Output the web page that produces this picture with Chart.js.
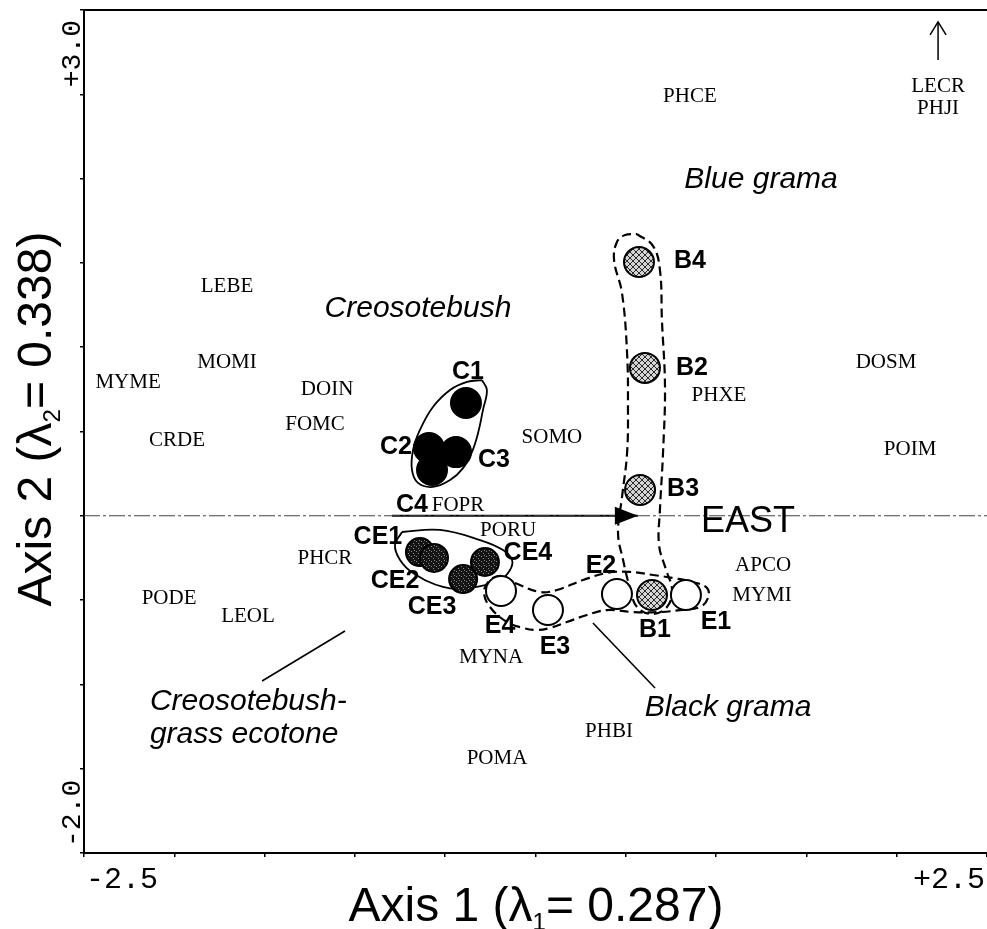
<!DOCTYPE html>
<html>
<head>
<meta charset="utf-8">
<script src="https://cdn.jsdelivr.net/npm/chart.js@4.4.0/dist/chart.umd.min.js"></script>
<style>
  html, body { margin: 0; padding: 0; background: #fff; }
  canvas { display: block; }
</style>
</head>
<body>
<canvas id="chart" width="987" height="929"></canvas>
<script>
// axis ranges and the tick labels shown at the ends
const xRange = [-2.5, 2.5];
const yRange = [-2.0, 3.0];
const xTickValues = [-2.5, 2.5];
const xTickLabels = ['-2.5', '+2.5'];
const yTickValues = [-2.0, 3.0];
const yTickLabels = ['-2.0', '+3.0'];

// site scores (axis 1, axis 2)
const creosoteSites = ['C1', 'C2', 'C3', 'C4'];
const creosoteX = [-0.385, -0.590, -0.440, -0.573];
const creosoteY = [0.669, 0.402, 0.378, 0.272];

const ecotoneSites = ['CE1', 'CE2', 'CE3', 'CE4'];
const ecotoneX = [-0.640, -0.562, -0.401, -0.280];
const ecotoneY = [-0.215, -0.250, -0.375, -0.274];

const blackSites = ['E1', 'E2', 'E3', 'E4'];
const blackX = [0.833, 0.451, 0.069, -0.191];
const blackY = [-0.470, -0.464, -0.559, -0.446];

const blueSites = ['B1', 'B2', 'B3', 'B4'];
const blueX = [0.645, 0.606, 0.579, 0.573];
const blueY = [-0.470, 0.877, 0.153, 1.505];

// species scores
const speciesNames = ['LEBE', 'MOMI', 'MYME', 'DOIN', 'FOMC', 'CRDE', 'SOMO', 'FOPR', 'PORU', 'PHCR',
  'PODE', 'LEOL', 'MYNA', 'PHBI', 'POMA', 'APCO', 'MYMI', 'PHXE', 'DOSM', 'POIM', 'PHCE', 'LECR', 'PHJI'];
const speciesX = [-1.708, -1.708, -2.256, -1.154, -1.221, -1.985, 0.091, -0.429, -0.152, -1.166,
  -2.029, -1.592, -0.246, 0.407, -0.213, 1.260, 1.254, 1.016, 1.941, 2.074, 0.855, 2.229, 2.229];
const speciesY = [1.363, 0.912, 0.788, 0.752, 0.539, 0.444, 0.467, 0.064, -0.090, -0.256,
  -0.493, -0.600, -0.843, -1.282, -1.442, -0.292, -0.470, 0.716, 0.912, 0.396, 2.490, 2.549, 2.413];

// environmental vector
const envName = 'EAST';
const envX = [-0.795, 0.567];
const envY = [0, 0];
const envLabelX = 1.177;
const envLabelY = -0.037;

// group envelopes (outline vertices, closed)
const creosoteHullX = [-0.296, -0.269, -0.291, -0.318, -0.352, -0.401, -0.473, -0.568, -0.651, -0.684, -0.678, -0.640, -0.568, -0.473, -0.379, -0.296];
const creosoteHullY = [0.805, 0.746, 0.627, 0.491, 0.378, 0.283, 0.212, 0.171, 0.195, 0.272, 0.390, 0.509, 0.645, 0.746, 0.794, 0.805];

const ecotoneHullX = [-0.739, -0.529, -0.307, -0.180, -0.130, -0.141, -0.197, -0.363, -0.512, -0.678, -0.750, -0.778, -0.739];
const ecotoneHullY = [-0.096, -0.084, -0.144, -0.203, -0.262, -0.321, -0.381, -0.428, -0.422, -0.339, -0.262, -0.173, -0.096];

const blueHullX = [0.562, 0.651, 0.689, 0.700, 0.717, 0.706, 0.689, 0.684, 0.723, 0.756, 0.728, 0.645, 0.562, 0.523, 0.485, 0.457, 0.479, 0.507, 0.512, 0.507, 0.479, 0.435, 0.451, 0.496, 0.562];
const blueHullY = [1.671, 1.600, 1.458, 1.161, 0.764, 0.372, 0.034, -0.173, -0.321, -0.440, -0.541, -0.582, -0.541, -0.428, -0.262, -0.102, 0.111, 0.372, 0.645, 0.966, 1.321, 1.517, 1.624, 1.665, 1.671];

const blackHullX = [-0.114, 0.025, 0.119, 0.263, 0.396, 0.523, 0.651, 0.761, 0.872, 0.950, 0.955, 0.911, 0.800, 0.689, 0.540, 0.396, 0.285, 0.174, 0.080, 0.008, -0.069, -0.158, -0.252, -0.285, -0.252, -0.185, -0.114];
const blackHullY = [-0.399, -0.452, -0.440, -0.381, -0.339, -0.333, -0.351, -0.369, -0.393, -0.428, -0.488, -0.541, -0.559, -0.571, -0.571, -0.559, -0.588, -0.630, -0.665, -0.677, -0.665, -0.630, -0.541, -0.452, -0.381, -0.357, -0.399];

// group names and their anchors
const groupNames = ['Creosotebush', 'Blue grama', 'Black grama', 'Creosotebush-', 'grass ecotone'];
const groupX = [-0.651, 1.249, 1.066, -2.135, -2.135];
const groupY = [1.227, 1.992, -1.140, -1.104, -1.300];
const groupAlign = ['center', 'center', 'center', 'left', 'left'];

// leader lines from group names
const ecotoneLeaderX = [-1.514, -1.055];
const ecotoneLeaderY = [-0.980, -0.683];
const blackLeaderX = [0.318, 0.662];
const blackLeaderY = [-0.636, -1.021];

// off-chart marker for LECR / PHJI
const offChartX = [2.229, 2.229];
const offChartY = [2.703, 2.929];

// label offsets in pixels from each site point
const creosoteLabelOffset = [[2, -31], [-33, -1], [38, 8], [-20, 35]];
const ecotoneLabelOffset = [[-42, -15], [-39, 23], [-31, 28], [43, -9]];
const blackLabelOffset = [[30, 27], [-16, -28], [7, 37], [-1, 35]];
const blueLabelOffset = [[3, 35], [47, 0], [43, -1], [51, -1]];

const pts = (xs, ys) => xs.map((v, i) => ({ x: v, y: ys[i] }));

const canvas = document.getElementById('chart');
const ctx0 = canvas.getContext('2d');

function makePattern(size, bg, fg, cells) {
  const c = document.createElement('canvas');
  c.width = size; c.height = size;
  const g = c.getContext('2d');
  g.fillStyle = bg;
  g.fillRect(0, 0, size, size);
  g.fillStyle = fg;
  cells.forEach(([a, b]) => g.fillRect(a, b, 1, 1));
  return ctx0.createPattern(c, 'repeat');
}

// light cross-hatch for blue grama, dark speckle for the ecotone
const blueFill = makePattern(6, '#d4d4d4', '#2a2a2a',
  [[0, 0], [1, 1], [2, 2], [3, 3], [4, 4], [5, 5], [5, 0], [4, 1], [3, 2], [2, 3], [1, 4], [0, 5]]);
const ecoFill = makePattern(5, '#141414', '#8a8a8a', [[1, 1], [3, 3], [4, 0]]);

function drawRich(ctx, parts, cx, cy, rot) {
  ctx.save();
  ctx.translate(cx, cy);
  ctx.rotate(rot);
  ctx.textAlign = 'left';
  ctx.textBaseline = 'alphabetic';
  let total = 0;
  parts.forEach(p => { ctx.font = p.font; total += ctx.measureText(p.text).width; });
  let pos = -total / 2;
  parts.forEach(p => {
    ctx.font = p.font;
    ctx.fillText(p.text, pos, p.dy || 0);
    pos += ctx.measureText(p.text).width;
  });
  ctx.restore();
}

const annotate = {
  id: 'annotate',
  afterDatasetsDraw(chart) {
    const { ctx, chartArea: a } = chart;
    const x = chart.scales.x;
    const y = chart.scales.y;
    ctx.save();
    ctx.fillStyle = '#000';
    ctx.strokeStyle = '#000';

    // top frame line
    ctx.lineWidth = 2;
    ctx.beginPath();
    ctx.moveTo(a.left, a.top);
    ctx.lineTo(a.right, a.top);
    ctx.stroke();

    // EAST arrowhead
    const tx = x.getPixelForValue(envX[1]);
    const ty = y.getPixelForValue(envY[1]);
    ctx.beginPath();
    ctx.moveTo(tx, ty);
    ctx.lineTo(tx - 23, ty - 9);
    ctx.lineTo(tx - 23, ty + 9);
    ctx.closePath();
    ctx.fill();

    // off-chart arrow (LECR, PHJI)
    const ax = x.getPixelForValue(offChartX[1]);
    const ay = y.getPixelForValue(offChartY[1]);
    ctx.lineWidth = 1.5;
    ctx.beginPath();
    ctx.moveTo(ax - 8, ay + 13);
    ctx.lineTo(ax, ay);
    ctx.lineTo(ax + 8, ay + 13);
    ctx.stroke();

    // species codes
    ctx.font = '21px "Liberation Serif"';
    ctx.textAlign = 'center';
    ctx.textBaseline = 'middle';
    speciesNames.forEach((n, i) => {
      ctx.fillText(n, x.getPixelForValue(speciesX[i]), y.getPixelForValue(speciesY[i]));
    });

    // site labels
    ctx.font = 'bold 25px "Liberation Sans"';
    const siteSets = [
      [creosoteSites, creosoteX, creosoteY, creosoteLabelOffset],
      [ecotoneSites, ecotoneX, ecotoneY, ecotoneLabelOffset],
      [blackSites, blackX, blackY, blackLabelOffset],
      [blueSites, blueX, blueY, blueLabelOffset]
    ];
    siteSets.forEach(([names, xs, ys, off]) => {
      names.forEach((n, i) => {
        ctx.fillText(n, x.getPixelForValue(xs[i]) + off[i][0], y.getPixelForValue(ys[i]) + off[i][1]);
      });
    });

    // group names
    ctx.font = 'italic 30px "Liberation Sans"';
    groupNames.forEach((n, i) => {
      ctx.textAlign = groupAlign[i];
      ctx.fillText(n, x.getPixelForValue(groupX[i]), y.getPixelForValue(groupY[i]));
    });

    // environmental variable name
    ctx.textAlign = 'center';
    ctx.font = '36px "Liberation Sans"';
    ctx.fillText(envName, x.getPixelForValue(envLabelX), y.getPixelForValue(envLabelY));

    // end tick labels
    ctx.textBaseline = 'alphabetic';
    ctx.font = '30px "Liberation Mono"';
    ctx.textAlign = 'left';
    ctx.fillText(xTickLabels[0], x.getPixelForValue(xTickValues[0]) + 2, 888);
    ctx.textAlign = 'right';
    ctx.fillText(xTickLabels[1], x.getPixelForValue(xTickValues[1]) - 2, 888);

    ctx.font = '28px "Liberation Mono"';
    [0, 1].forEach(i => {
      ctx.save();
      const py = y.getPixelForValue(yTickValues[i]) + (i === 0 ? -6 : 10);
      ctx.translate(80, py);
      ctx.rotate(-Math.PI / 2);
      ctx.textAlign = i === 0 ? 'left' : 'right';
      ctx.fillText(yTickLabels[i], 0, 0);
      ctx.restore();
    });

    // axis titles
    drawRich(ctx, [
      { text: 'Axis 1 (\u03bb', font: '48px "Liberation Sans"' },
      { text: '1', font: '24px "Liberation Sans"', dy: 9 },
      { text: '= 0.287)', font: '48px "Liberation Sans"' }
    ], 536, 921, 0);
    drawRich(ctx, [
      { text: 'Axis 2 (\u03bb', font: '48px "Liberation Sans"' },
      { text: '2', font: '24px "Liberation Sans"', dy: 9 },
      { text: '= 0.338)', font: '48px "Liberation Sans"' }
    ], 51, 419, -Math.PI / 2);

    ctx.restore();
  }
};

const siteStyle = (fill, radius) => ({
  pointRadius: radius,
  pointHoverRadius: radius,
  pointBackgroundColor: fill,
  pointBorderColor: '#000',
  pointBorderWidth: 2,
  showLine: false,
  order: 0
});

const outline = (xs, ys, dashed) => ({
  data: pts(xs, ys),
  showLine: true,
  borderColor: '#000',
  borderWidth: dashed ? 2.2 : 1.8,
  borderDash: dashed ? [9, 5] : [],
  tension: 0.4,
  pointRadius: 0,
  fill: false,
  order: 1
});

const segment = (xs, ys, width, dash, color) => ({
  data: pts(xs, ys),
  showLine: true,
  borderColor: color || '#000',
  borderWidth: width,
  borderDash: dash || [],
  pointRadius: 0,
  fill: false,
  order: 2
});

new Chart(canvas, {
  type: 'scatter',
  data: {
    datasets: [
      Object.assign({ data: pts(creosoteX, creosoteY) }, siteStyle('#000', 15)),
      Object.assign({ data: pts(ecotoneX, ecotoneY) }, siteStyle(ecoFill, 14)),
      Object.assign({ data: pts(blackX, blackY) }, siteStyle('#fff', 15)),
      Object.assign({ data: pts(blueX, blueY) }, siteStyle(blueFill, 15)),
      outline(creosoteHullX, creosoteHullY, false),
      outline(ecotoneHullX, ecotoneHullY, false),
      outline(blueHullX, blueHullY, true),
      outline(blackHullX, blackHullY, true),
      segment(xRange, [0, 0], 1.1, [16, 3, 3, 3], '#444'),
      segment(envX, envY, 2),
      segment(ecotoneLeaderX, ecotoneLeaderY, 1.6),
      segment(blackLeaderX, blackLeaderY, 1.6),
      segment(offChartX, offChartY, 1.5)
    ]
  },
  options: {
    responsive: false,
    devicePixelRatio: 1,
    animation: false,
    layout: { autoPadding: false, padding: { top: 10, right: 0, left: 0, bottom: 0 } },
    plugins: {
      legend: { display: false },
      tooltip: { enabled: false }
    },
    scales: {
      x: {
        type: 'linear',
        min: xRange[0],
        max: xRange[1],
        ticks: { stepSize: 0.5, display: false },
        grid: { drawOnChartArea: false, drawTicks: true, tickLength: 4, color: '#000', lineWidth: 1.5 },
        border: { display: true, color: '#000', width: 2 },
        afterFit: s => { s.height = 76; }
      },
      y: {
        type: 'linear',
        min: yRange[0],
        max: yRange[1],
        ticks: { stepSize: 0.5, display: false },
        grid: { drawOnChartArea: false, drawTicks: true, tickLength: 4, color: '#000', lineWidth: 1.5 },
        border: { display: true, color: '#000', width: 2 },
        afterFit: s => { s.width = 84; }
      }
    }
  },
  plugins: [annotate]
});
</script>
</body>
</html>
